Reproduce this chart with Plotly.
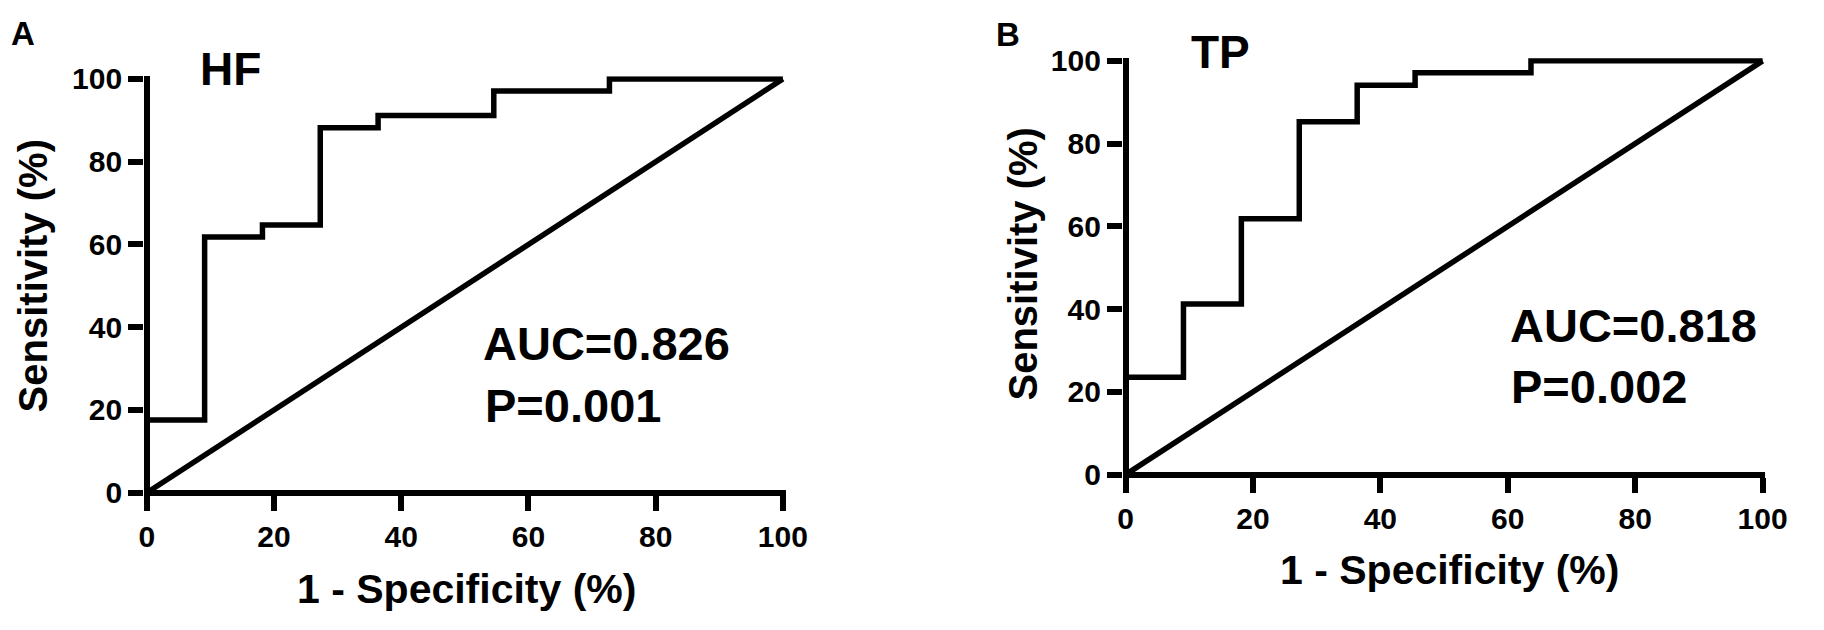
import plotly.graph_objects as go

W, H = 1824, 630

# ROC data (1 - specificity %, sensitivity %)
hf_fpr = [0, 0, 9.09, 9.09, 18.18, 18.18, 27.27, 27.27, 36.36, 36.36, 54.55, 54.55, 72.73, 72.73, 100]
hf_tpr = [0, 17.6, 17.6, 61.8, 61.8, 64.7, 64.7, 88.2, 88.2, 91.2, 91.2, 97.1, 97.1, 100, 100]

tp_fpr = [0, 0, 9.09, 9.09, 18.18, 18.18, 27.27, 27.27, 36.36, 36.36, 45.45, 45.45, 63.64, 63.64, 100]
tp_tpr = [0, 23.5, 23.5, 41.2, 41.2, 61.8, 61.8, 85.3, 85.3, 94.1, 94.1, 97.1, 97.1, 100, 100]

ref_line = [0, 100]
ticks = [0, 20, 40, 60, 80, 100]
panel_labels = ["A", "B"]
titles = ["HF", "TP"]
auc_texts = ["AUC=0.826", "AUC=0.818"]
p_texts = ["P=0.001", "P=0.002"]
x_title = "1 - Specificity (%)"
y_title = "Sensitivity (%)"

FONT = "Liberation Sans, Arial, sans-serif"
LW = 5.5
HALF = LW / 2

fig = go.Figure()
for fx, fy, xa, ya in [(hf_fpr, hf_tpr, "x", "y"), (ref_line, ref_line, "x", "y"),
                       (tp_fpr, tp_tpr, "x2", "y2"), (ref_line, ref_line, "x2", "y2")]:
    fig.add_trace(go.Scatter(x=fx, y=fy, mode="lines",
                             line=dict(color="black", width=LW, shape="linear"),
                             xaxis=xa, yaxis=ya, showlegend=False, hoverinfo="skip"))

def px(x):
    return x / W

def py(y):
    return 1 - y / H

def axis(p0, p1, horizontal):
    # p0, p1: pixel positions of data 0 and data 100
    span = abs(p1 - p0)
    pad = HALF * 100 / span
    if horizontal:
        dom = [px(p0 - HALF), px(p1 + HALF)]
    else:
        dom = [py(p0 + HALF), py(p1 - HALF)]
    return dict(domain=dom, range=[-pad, 100 + pad], tickvals=ticks,
                ticktext=[f"<b>{t}</b>" for t in ticks],
                showline=False, zeroline=True, zerolinecolor="black", zerolinewidth=LW,
                ticks="outside", ticklen=15, tickwidth=LW, tickcolor="black",
                showgrid=False, fixedrange=True,
                tickfont=dict(family=FONT, size=30, color="black"))

fig.update_layout(
    width=W, height=H,
    margin=dict(l=0, r=0, t=0, b=0, pad=0),
    paper_bgcolor="white", plot_bgcolor="white",
    xaxis=dict(anchor="y", **axis(143, 789, True)),
    yaxis=dict(anchor="x", **axis(501, 68, False)),
    xaxis2=dict(anchor="y2", **axis(1137, 1784, True)),
    yaxis2=dict(anchor="x2", **axis(482, 49, False)),
)

def ann(text, x, y, size, xanchor="center", angle=0):
    fig.add_annotation(text=f"<b>{text}</b>", x=px(x), y=py(y), xref="paper", yref="paper",
                       xanchor=xanchor, yanchor="middle", showarrow=False, textangle=angle,
                       font=dict(family=FONT, size=size, color="black"))

# Panel A
ann(panel_labels[0], 17, 20, 33)
ann(titles[0], 228, 58, 46)
ann(auc_texts[0], 482, 345, 47, "left")
ann(p_texts[0], 484, 410, 47, "left")
ann(y_title, 27, 274, 40, angle=-90)
ann(x_title, 468, 602, 41)

# Panel B
ann(panel_labels[1], 1018, 21, 33)
ann(titles[1], 1233, 40, 46)
ann(auc_texts[1], 1525, 326, 47, "left")
ann(p_texts[1], 1526, 390, 47, "left")
ann(y_title, 1033, 262, 40, angle=-90)
ann(x_title, 1466, 582, 41)

fig.write_html("out.html", config={"displayModeBar": False},
               post_script="document.body.style.margin='0px';")
